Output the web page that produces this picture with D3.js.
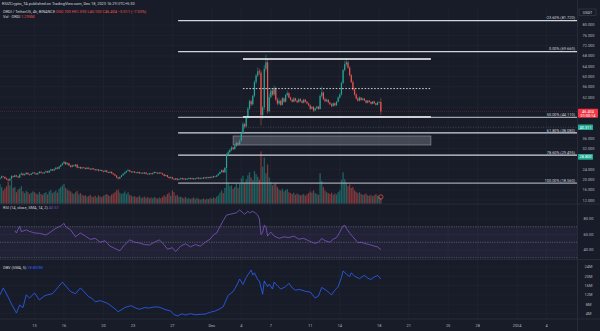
<!DOCTYPE html>
<html>
<head>
<meta charset="utf-8">
<script src="https://cdn.jsdelivr.net/npm/d3@7"></script>
<style>
html,body{margin:0;padding:0;background:#181c28;}
svg{display:block;font-family:Roboto,"Noto Sans",sans-serif;}
</style>
</head>
<body>
<svg id="chart" width="600" height="331"></svg>
<script>
// ORDI / TetherUS, 4h bars from 9 Nov 2023 12:00 onwards
const barStart = Date.UTC(2023, 10, 9, 12);
const barHours = 4;
const firstOpen = 20.3;

const closes = [
  20.6,21.2,21.0,
  20.4,20.0,19.6,20.3,21.3,21.0,
  21.6,21.2,20.8,21.9,22.3,21.7,
  22.1,22.6,22.0,21.8,22.3,22.7,
  22.4,22.0,22.5,23.0,22.6,22.4,
  22.8,23.2,22.7,23.4,23.9,23.5,
  24.0,24.6,24.2,25.0,25.6,26.2,
  26.8,25.9,26.3,25.4,24.9,25.5,
  25.2,25.8,24.6,24.9,24.3,24.7,
  24.5,24.1,24.6,24.2,23.9,24.3,
  24.0,23.6,23.9,23.4,23.7,23.3,
  23.0,23.5,22.9,22.6,23.0,22.4,
  22.0,21.5,20.8,20.4,21.0,21.6,
  22.2,22.8,23.3,23.6,23.1,22.8,
  23.1,22.7,22.5,22.9,22.4,22.6,
  22.3,22.7,22.2,22.0,22.4,22.1,
  22.5,22.9,22.6,22.3,22.7,22.4,
  22.0,21.4,21.7,21.0,20.6,20.9,
  20.3,20.0,20.4,19.9,20.2,20.5,
  20.1,20.4,20.0,20.3,20.6,20.2,
  20.5,20.1,20.4,20.7,20.3,20.6,
  20.4,20.8,20.5,20.9,20.6,21.0,
  20.8,21.3,21.1,21.6,22.2,22.9,
  23.6,22.8,24.5,29.8,30.6,31.5,
  32.4,31.8,33.0,34.2,33.6,35.1,
  38.0,41.5,40.6,44.0,47.5,50.4,
  49.2,52.5,57.8,60.4,62.0,61.5,
  45.0,48.0,63.0,65.5,46.5,52.0,
  54.5,53.0,55.5,51.0,49.5,50.5,
  49.0,51.5,50.2,52.8,53.5,51.8,
  51.0,50.2,51.5,50.6,50.0,51.2,
  50.5,49.8,51.0,50.2,49.5,48.8,
  47.5,48.2,46.8,47.6,48.3,47.4,
  52.5,53.8,51.2,50.4,51.0,49.9,
  49.2,48.5,49.6,48.8,50.2,51.8,
  53.0,57.5,62.5,64.8,65.5,63.4,
  60.5,57.8,55.0,53.0,51.5,50.6,
  51.8,50.9,51.4,50.7,49.8,50.6,
  50.1,49.4,50.3,49.6,49.0,49.915,
  50.1,46.404
];

const highs = [
  20.9,21.6,21.4,
  21.2,20.7,20.3,20.5,21.7,21.5,
  21.9,21.8,21.4,22.2,22.8,22.4,
  22.3,22.9,22.7,22.2,22.5,23.0,
  22.9,22.6,22.7,23.3,23.2,22.8,
  23.0,23.5,23.4,23.6,24.2,24.1,
  24.3,24.9,24.8,25.3,25.9,26.6,
  27.3,27.0,26.6,26.5,25.7,25.8,
  25.7,26.0,25.9,25.1,25.0,24.9,
  24.9,24.7,24.8,24.7,24.3,24.5,
  24.5,24.1,24.1,24.0,23.9,23.8,
  23.5,23.7,23.6,23.0,23.2,23.1,
  22.6,22.2,21.7,21.0,21.2,21.8,
  22.4,23.0,23.5,24.0,23.8,23.3,
  23.3,23.2,22.9,23.1,23.0,22.8,
  22.8,22.9,22.8,22.4,22.6,22.5,
  22.7,23.2,23.0,22.8,22.9,22.8,
  22.6,22.2,21.9,21.8,21.2,21.1,
  21.1,20.5,20.6,20.6,20.4,20.7,
  20.7,20.6,20.5,20.5,20.8,20.7,
  20.7,20.6,20.6,20.9,20.8,20.8,
  20.8,21.0,20.9,21.1,21.0,21.2,
  21.2,21.5,21.4,21.8,22.4,23.2,
  23.9,23.8,24.8,30.3,31.2,32.0,
  33.0,32.8,33.5,34.8,34.6,35.6,
  38.6,42.3,42.0,44.6,48.2,51.0,
  51.0,53.0,58.5,61.0,63.5,63.0,
  62.5,48.5,64.5,68.5,66.8,53.5,
  55.5,55.2,56.5,56.0,51.8,51.5,
  51.0,52.0,51.8,53.2,54.5,53.9,
  52.2,51.4,51.9,51.8,51.0,51.6,
  51.6,50.9,51.4,51.3,50.5,49.8,
  49.1,48.5,48.6,47.9,48.6,48.6,
  53.0,56.0,54.2,51.8,51.4,51.2,
  50.2,49.6,49.9,49.9,50.5,52.3,
  53.5,58.0,63.0,66.0,67.0,66.0,
  64.0,61.0,58.5,55.6,53.5,52.0,
  52.3,52.0,51.7,51.6,50.9,50.9,
  50.9,50.4,50.5,50.6,49.8,50.3,
  50.4,51.59
];

const lows = [
  20.0,20.4,20.8,
  20.2,19.8,19.2,19.4,20.1,20.7,
  20.8,21.0,20.5,20.6,21.7,21.5,
  21.5,21.9,21.8,21.5,21.7,22.1,
  22.2,21.7,21.9,22.3,22.4,22.1,
  22.2,22.6,22.5,22.5,23.2,23.3,
  23.3,23.8,24.0,24.0,24.8,25.4,
  26.0,25.6,25.7,25.2,24.6,24.7,
  25.0,25.0,24.4,24.4,24.1,24.2,
  24.3,23.9,24.0,24.0,23.7,23.8,
  23.8,23.4,23.5,23.2,23.3,23.1,
  22.8,22.9,22.7,22.4,22.5,22.2,
  21.8,21.3,20.5,20.0,20.2,20.9,
  21.4,22.0,22.6,23.1,22.9,22.6,
  22.6,22.5,22.3,22.3,22.2,22.2,
  22.1,22.1,22.0,21.8,21.8,21.9,
  21.9,22.3,22.4,22.1,22.1,22.2,
  21.8,21.2,21.2,20.8,20.3,20.4,
  20.1,19.7,19.8,19.6,19.7,20.0,
  19.9,19.9,19.8,19.8,20.1,20.0,
  20.0,19.9,20.0,20.2,20.1,20.1,
  20.2,20.2,20.3,20.3,20.4,20.4,
  20.6,20.6,20.9,20.9,21.4,22.0,
  22.6,22.6,22.6,24.2,29.0,30.2,
  31.0,31.4,31.5,32.6,33.0,33.3,
  34.8,37.5,39.8,40.2,43.5,47.0,
  48.5,48.8,52.0,57.0,59.8,60.5,
  41.0,43.5,47.0,62.0,45.5,46.0,
  51.5,52.5,52.5,50.5,48.8,49.0,
  48.5,48.8,49.8,50.0,52.3,51.5,
  50.6,49.9,50.0,50.3,49.6,49.8,
  50.2,49.5,49.6,49.9,49.2,48.5,
  47.0,47.2,46.3,46.5,47.3,47.0,
  47.2,52.0,50.8,50.0,50.1,49.6,
  48.9,48.1,48.3,48.4,48.6,50.0,
  51.4,52.6,57.0,62.0,64.0,63.0,
  60.0,57.5,54.5,52.6,51.0,50.2,
  50.3,50.6,50.6,50.4,49.5,49.6,
  49.9,49.1,49.2,49.3,48.7,48.8,
  49.6,45.1
];

// volume per bar, millions of ORDI
const volumes = [
  4.5,3.8,3.0,
  3.5,4.0,5.0,4.2,5.5,3.6,
  3.8,2.6,3.2,3.5,4.0,2.8,
  2.4,2.9,2.6,2.2,2.5,2.8,
  2.6,2.3,2.1,2.7,2.2,2.0,
  2.4,2.6,2.1,2.8,3.1,2.4,
  2.7,3.0,2.5,3.4,3.8,4.2,
  4.5,3.6,3.2,3.0,2.8,2.4,
  2.2,2.6,2.9,2.1,2.4,2.0,
  1.8,1.9,1.6,1.7,2.0,1.6,
  1.5,1.8,1.4,1.9,1.6,1.5,
  1.8,2.0,2.2,1.9,1.7,2.1,
  2.3,2.6,3.0,3.2,2.5,2.2,
  2.4,2.8,2.2,2.6,2.0,1.8,
  1.6,1.7,1.4,1.5,1.8,1.3,
  1.4,1.6,1.3,1.5,1.2,1.4,
  1.2,1.5,1.3,1.1,1.4,1.2,
  1.5,1.9,1.6,2.2,2.5,1.8,
  3.0,2.6,1.8,2.0,1.5,1.6,
  1.4,1.2,1.5,1.1,1.3,1.0,
  1.2,1.4,1.0,1.3,1.1,0.9,
  1.0,1.2,0.9,1.1,1.0,1.3,
  1.1,1.4,1.2,1.6,1.9,2.5,
  3.0,2.4,3.6,8.0,4.8,4.0,
  4.2,3.4,3.8,4.5,3.6,4.6,
  5.8,6.4,4.8,5.6,6.5,7.2,
  6.0,5.4,7.5,6.8,6.2,5.5,
  12.0,8.5,10.6,7.0,9.0,6.0,
  5.0,4.2,4.6,4.8,3.8,3.2,
  3.0,3.4,2.8,3.1,3.3,2.6,
  2.4,2.2,2.5,2.0,2.3,2.1,
  1.9,2.0,2.2,1.8,2.1,2.4,
  2.8,2.5,3.0,2.4,2.2,2.0,
  7.0,5.2,3.8,3.0,2.6,2.4,
  2.2,2.5,2.0,2.3,2.1,2.6,
  3.0,5.5,7.2,5.6,4.8,4.0,
  4.4,3.6,3.8,3.0,2.7,2.4,
  2.6,2.2,2.0,2.1,2.3,1.9,
  1.8,2.0,1.7,1.9,2.2,1.8,
  1.6,1.295
];

// RSI(14) readings: bar index and value
const rsiBar = [9,10,12,13,16,18,21,24,28,30,34,37,39,40,43,46,49,52,55,58,61,64,67,70,73,76,79,82,85,88,91,94,97,100,102,105,107,110,113,116,119,122,125,128,130,132,134,136,138,140,142,144,146,148,149,151,152,154,156,157,158,159,160,161,162,163,164,165,167,170,173,176,179,182,185,188,190,192,194,196,198,201,203,205,207,209,210,211,213,215,217,218,220,223,225,228,230,232];
const rsiVal = [65,62,71,63.6,66,64,62,61.5,59.4,62,68,71,74.4,70,66,57,62,58,53.7,55,50,52,45,42,39,47,53,50,49,47,46.5,50,53,47,41,43,38,45,48,44,47,45,50,54,59.4,62,70,78,85,86,87,88,91.6,88,86,90,88,90,87,85,80,60,63,72,70,58,61,63,58,55,57,56,58,54,55,52,50,48.6,50,55,52,50,54,56,63,71,72,68,62,57,52,49.5,50,48,47,45,44,40.57];

// OBV readings (millions): bar index and value
const obvBar = [0,2,5,7,10,12,14,16,18,21,24,27,29,32,35,38,41,43,46,49,51,54,56,58,61,63,65,67,70,72,76,78,80,83,85,88,91,94,97,100,104,106,108,111,113,116,119,122,125,128,131,134,136,139,142,144,146,148,150,153,154,155,157,158,160,161,163,164,166,167,169,171,174,176,178,180,182,184,186,189,191,192,194,196,199,202,204,206,208,209,211,213,214,216,219,220,222,224,226,228,230,232];
const obvVal = [12,15,11,8,4.2,7.6,6.5,12,10.6,12.8,9.8,11.5,12,12.5,15,17.5,15,13.4,12.5,15,13.5,11.2,10.5,9,9.5,9,8.5,7.6,6,4.7,6.5,7,7.3,6.2,5.8,6.5,6.3,6.8,6.7,5.8,5,3.5,2.9,3.8,3.3,3.9,3.4,3.6,3.7,4.5,5,6,6.9,11.8,13.4,15.8,18.8,16.5,19.5,22.7,20.5,21.5,18.5,18,12.3,18,15.5,16.6,14.5,17.5,16,14.5,15.5,17,15,14,14.3,14,13.5,13.2,11.5,10.6,11.5,15.2,13.8,12,14,15.5,19.5,22.3,21,19.8,21.5,20,19,19.5,20.4,19.2,18.6,19.7,20.4,18.802];

// Fibonacci retracement anchors
const fibHigh = 69.66, fibLow = 18.56;
const fibLevels = [-0.236, 0, 0.5, 0.618, 0.786, 1];
// Range box and supply zone drawn on the chart (bar indices, prices)
const rangeBox = {from: 148, to: 262.5, top: 66.8, mid: 55.3, bottom: 44.3};
const zone = {from: 142, to: 262.5, top: 36.9, bottom: 33.4};
const fibFrom = 108.5;
// green level tags on the price scale; the first one also has a ray on the chart
const levelTags = [40.311, 28.8];
const rayFrom = 148;

const priceTicks = [80,76,72,68,64,60,56,52,48,44,40,36,32,28,24,20,16,12];
const rsiTicks = [80,60,40];
const obvTicks = [24,20,16,12,8,4];
const timeTicks = [
  [Date.UTC(2023,10,13),"13"],[Date.UTC(2023,10,16),"16"],[Date.UTC(2023,10,20),"20"],
  [Date.UTC(2023,10,23),"23"],[Date.UTC(2023,10,27),"27"],[Date.UTC(2023,11,1),"Dec"],
  [Date.UTC(2023,11,4),"4"],[Date.UTC(2023,11,7),"7"],[Date.UTC(2023,11,11),"11"],
  [Date.UTC(2023,11,14),"14"],[Date.UTC(2023,11,18),"18"],[Date.UTC(2023,11,21),"21"],
  [Date.UTC(2023,11,25),"25"],[Date.UTC(2023,11,28),"28"],[Date.UTC(2024,0,1),"2024"],
  [Date.UTC(2024,0,4),"4"]
];

const UP = "#26a69a", DOWN = "#ef5350";
const GRID = "#222633", SEP = "#2c303c", AXIS_TXT = "#b2b5be";
const FS = 3.9;

const svg = d3.select("#chart");
const plotW = 577;
const paneTop = 8, paneBottom = 203.5;
const rsiTop = 204, rsiBottom = 259.5;
const obvTop = 259.5, obvBottom = 319;

const x = d3.scaleLinear().domain([0, 351.5]).range([0, plotW]);
const barOf = t => (t - barStart) / (barHours * 3600e3);
const yP = d3.scaleLinear().domain([80, 12]).range([25, 200.1]);
const yV = d3.scaleLinear().domain([0, 12]).range([paneBottom, paneBottom - 52]);
const yR = d3.scaleLinear().domain([80, 30]).range([219, 257.75]);
const yO = d3.scaleLinear().domain([24, 4]).range([267, 313.4]);

const bars = closes.map((c, i) => ({
  i, o: i === 0 ? firstOpen : closes[i - 1], c, h: highs[i], l: lows[i], v: volumes[i]
}));
const last = bars[bars.length - 1];

// grid
const grid = svg.append("g").attr("stroke", GRID).attr("stroke-width", 0.6);
timeTicks.forEach(([t]) => {
  const xx = x(barOf(t));
  grid.append("line").attr("x1", xx).attr("x2", xx).attr("y1", paneTop).attr("y2", obvBottom);
});
priceTicks.forEach(p => grid.append("line").attr("x1", 0).attr("x2", plotW).attr("y1", yP(p)).attr("y2", yP(p)));
rsiTicks.forEach(v => grid.append("line").attr("x1", 0).attr("x2", plotW).attr("y1", yR(v)).attr("y2", yR(v)));
obvTicks.forEach(v => grid.append("line").attr("x1", 0).attr("x2", plotW).attr("y1", yO(v)).attr("y2", yO(v)));

// pane separators
const seps = svg.append("g").attr("stroke", SEP).attr("stroke-width", 0.8);
[rsiTop, obvTop, obvBottom].forEach(y => seps.append("line").attr("x1", 0).attr("x2", 600).attr("y1", y).attr("y2", y));
seps.append("line").attr("x1", plotW + 0.5).attr("x2", plotW + 0.5).attr("y1", 0).attr("y2", 331);

// volume
svg.append("g").selectAll("rect").data(bars).join("rect")
  .attr("x", d => x(d.i) - 0.65).attr("width", 1.3)
  .attr("y", d => yV(d.v)).attr("height", d => yV(0) - yV(d.v))
  .attr("fill", d => d.c >= d.o ? UP : DOWN).attr("fill-opacity", 0.5);

// supply zone
svg.append("rect")
  .attr("x", x(zone.from)).attr("width", x(zone.to) - x(zone.from))
  .attr("y", yP(zone.top)).attr("height", yP(zone.bottom) - yP(zone.top))
  .attr("fill", "#6a6d78").attr("fill-opacity", 0.55)
  .attr("stroke", "#9598a1").attr("stroke-width", 0.6);

// dotted ray at the first green level
svg.append("line").attr("x1", x(rayFrom)).attr("x2", plotW)
  .attr("y1", yP(levelTags[0])).attr("y2", yP(levelTags[0]))
  .attr("stroke", "#787b86").attr("stroke-width", 0.6).attr("stroke-dasharray", "1,1.5").attr("stroke-opacity", 0.7);

// fibonacci retracement
const fib = svg.append("g");
fibLevels.forEach(lv => {
  const p = fibHigh - lv * (fibHigh - fibLow);
  const yy = yP(p);
  fib.append("line").attr("x1", x(fibFrom)).attr("x2", plotW).attr("y1", yy).attr("y2", yy)
    .attr("stroke", lv === 0.5 || lv === 1 ? "#a3a6af" : "#d1d4dc").attr("stroke-width", 1.3);
  fib.append("text").attr("x", plotW - 2).attr("y", yy - 1.4).attr("text-anchor", "end")
    .attr("font-size", FS).attr("fill", "#d1d4dc")
    .text(`${(lv * 100).toFixed(2)}% (${p.toFixed(3)})`);
});

// candles
const cg = svg.append("g");
cg.selectAll("line").data(bars).join("line")
  .attr("x1", d => x(d.i)).attr("x2", d => x(d.i))
  .attr("y1", d => yP(d.h)).attr("y2", d => yP(d.l))
  .attr("stroke", d => d.c >= d.o ? UP : DOWN).attr("stroke-width", 0.5);
cg.selectAll("rect").data(bars).join("rect")
  .attr("x", d => x(d.i) - 0.6).attr("width", 1.2)
  .attr("y", d => yP(Math.max(d.o, d.c)))
  .attr("height", d => Math.max(0.5, Math.abs(yP(d.o) - yP(d.c))))
  .attr("fill", d => d.c >= d.o ? UP : DOWN);

// consolidation range box
const rb = svg.append("g").attr("stroke", "#ffffff");
rb.append("line").attr("x1", x(rangeBox.from)).attr("x2", x(rangeBox.to)).attr("y1", yP(rangeBox.top)).attr("y2", yP(rangeBox.top)).attr("stroke-width", 1.3);
rb.append("line").attr("x1", x(rangeBox.from)).attr("x2", x(rangeBox.to)).attr("y1", yP(rangeBox.mid)).attr("y2", yP(rangeBox.mid)).attr("stroke-width", 0.8).attr("stroke-dasharray", "1.6,1.6");
rb.append("line").attr("x1", x(rangeBox.from)).attr("x2", x(rangeBox.to)).attr("y1", yP(rangeBox.bottom)).attr("y2", yP(rangeBox.bottom)).attr("stroke-width", 1.3);

// event marker under the latest bar
svg.append("circle").attr("cx", x(last.i)).attr("cy", 197).attr("r", 2.2)
  .attr("fill", "none").attr("stroke", DOWN).attr("stroke-width", 0.7);

// tag boxes on the price scale (label rows hidden beneath them)
const lastTag = {y0: yP(last.c) - 2.8, y1: yP(last.c) + 6.2};
const greenTags = levelTags.map(p => ({p, y0: yP(p) - 2.8, y1: yP(p) + 2.8}));
const tagBoxes = [lastTag, ...greenTags];
const hidden = p => tagBoxes.some(b => yP(p) + 1.6 > b.y0 && yP(p) - 1.6 < b.y1);

// price axis
const pa = svg.append("g").attr("font-size", FS).attr("fill", AXIS_TXT).attr("text-anchor", "middle");
priceTicks.filter(p => !hidden(p)).forEach(p => pa.append("text").attr("x", 588.5).attr("y", yP(p) + 1.4).text(p.toFixed(3)));
svg.append("rect").attr("x", 579).attr("y", 9).attr("width", 17).attr("height", 6.5).attr("fill", "#181c28").attr("stroke", "#434651").attr("stroke-width", 0.5);
svg.append("text").attr("x", 587.5).attr("y", 13.6).attr("font-size", FS).attr("fill", "#d1d4dc").attr("text-anchor", "middle").text("USDT");

// last price line and tag
svg.append("line").attr("x1", 0).attr("x2", plotW).attr("y1", yP(last.c)).attr("y2", yP(last.c))
  .attr("stroke", DOWN).attr("stroke-width", 0.5).attr("stroke-dasharray", "0.8,1.2").attr("stroke-opacity", 0.5);
svg.append("rect").attr("x", 578).attr("y", lastTag.y0).attr("width", 20).attr("height", lastTag.y1 - lastTag.y0).attr("fill", "#f23645").attr("rx", 0.8);
svg.append("text").attr("x", 588).attr("y", yP(last.c) + 1.3).attr("font-size", FS).attr("fill", "#fff").attr("text-anchor", "middle").text(last.c.toFixed(3));
svg.append("text").attr("x", 588).attr("y", yP(last.c) + 5.3).attr("font-size", FS).attr("fill", "#fff").attr("text-anchor", "middle").text("01:00:14");

// green level tags
greenTags.forEach(t => {
  svg.append("rect").attr("x", 578).attr("y", t.y0).attr("width", 15).attr("height", t.y1 - t.y0).attr("fill", "#22ab94").attr("rx", 0.6);
  svg.append("text").attr("x", 585.5).attr("y", yP(t.p) + 1.4).attr("font-size", FS).attr("fill", "#fff").attr("text-anchor", "middle").text(t.p.toFixed(3));
});

// RSI pane
svg.append("rect").attr("x", 0).attr("width", plotW).attr("y", yR(70)).attr("height", yR(30) - yR(70))
  .attr("fill", "#7e57c2").attr("fill-opacity", 0.1);
[70, 50, 30].forEach(v => svg.append("line").attr("x1", 0).attr("x2", plotW).attr("y1", yR(v)).attr("y2", yR(v))
  .attr("stroke", "#787b86").attr("stroke-width", 0.6).attr("stroke-dasharray", "1.2,1.2"));
svg.append("path").datum(rsiBar.map((b, k) => [b, rsiVal[k]]))
  .attr("d", d3.line().x(d => x(d[0])).y(d => yR(d[1])))
  .attr("fill", "none").attr("stroke", "#7e57c2").attr("stroke-width", 0.8);
rsiTicks.forEach(v => svg.append("text").attr("x", 588.5).attr("y", yR(v) + 1.4).attr("font-size", FS)
  .attr("fill", AXIS_TXT).attr("text-anchor", "middle").text(v.toFixed(2)));

// OBV pane
svg.append("path").datum(obvBar.map((b, k) => [b, obvVal[k]]))
  .attr("d", d3.line().x(d => x(d[0])).y(d => yO(d[1])))
  .attr("fill", "none").attr("stroke", "#2962ff").attr("stroke-width", 0.8);
obvTicks.forEach(v => svg.append("text").attr("x", 588.5).attr("y", yO(v) + 1.4).attr("font-size", FS)
  .attr("fill", AXIS_TXT).attr("text-anchor", "middle").text(v + "M"));

// time axis
timeTicks.forEach(([t, s]) => svg.append("text").attr("x", x(barOf(t))).attr("y", 326.5)
  .attr("font-size", FS).attr("fill", AXIS_TXT).attr("text-anchor", "middle").text(s));

// legends
const lg = svg.append("g").attr("font-size", FS);
lg.append("text").attr("x", 2).attr("y", 4.5).attr("fill", "#d1d4dc")
  .text("RSIZCrypto_TA published on TradingView.com, Dec 18, 2023 16:29 UTC+5:30");
const t1 = lg.append("text").attr("x", 3).attr("y", 12.5).attr("fill", "#d1d4dc");
t1.append("tspan").text("ORDI / TetherUS, 4h, BINANCE  ");
t1.append("tspan").attr("fill", DOWN).text("O50.100 H51.590 L45.100 C46.404 \u22123.511 (\u22127.03%)");
const t2 = lg.append("text").attr("x", 3).attr("y", 17.5).attr("fill", "#d1d4dc");
t2.append("tspan").text("Vol \u00b7 ORDI  ");
t2.append("tspan").attr("fill", DOWN).text("1.295M");
const t3 = lg.append("text").attr("x", 3).attr("y", 209).attr("fill", "#d1d4dc");
t3.append("tspan").text("RSI (14, close, SMA, 14, 2)  ");
t3.append("tspan").attr("fill", "#7e57c2").text("40.57");
const t4 = lg.append("text").attr("x", 3).attr("y", 268.5).attr("fill", "#d1d4dc");
t4.append("tspan").text("OBV (SMA, 5)  ");
t4.append("tspan").attr("fill", "#2962ff").text("18.802M");
</script>
</body>
</html>
